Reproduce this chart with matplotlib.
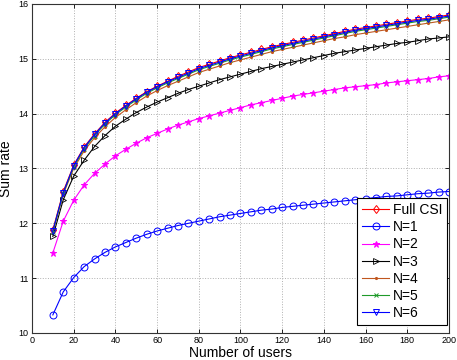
import matplotlib
matplotlib.use("Agg")
import matplotlib.pyplot as plt

plt.rcParams["font.family"] = ["Liberation Sans", "DejaVu Sans"]

users = list(range(10, 201, 5))

full_csi = [11.88, 12.58, 13.06, 13.39, 13.63, 13.84, 14.01, 14.15, 14.28, 14.40,
            14.50, 14.59, 14.68, 14.76, 14.84, 14.90, 14.96, 15.02, 15.07, 15.12,
            15.17, 15.22, 15.26, 15.30, 15.34, 15.38, 15.42, 15.46, 15.50, 15.54,
            15.57, 15.60, 15.63, 15.66, 15.69, 15.72, 15.74, 15.77, 15.80]
n1 = [10.33, 10.75, 11.01, 11.21, 11.35, 11.47, 11.57, 11.65, 11.73, 11.80,
      11.86, 11.91, 11.96, 12.00, 12.04, 12.08, 12.12, 12.15, 12.18, 12.21,
      12.24, 12.26, 12.29, 12.31, 12.33, 12.35, 12.37, 12.39, 12.41, 12.43,
      12.45, 12.47, 12.49, 12.50, 12.52, 12.54, 12.55, 12.57, 12.58]
n2 = [11.46, 12.04, 12.42, 12.70, 12.91, 13.08, 13.23, 13.35, 13.46, 13.56,
      13.64, 13.72, 13.79, 13.85, 13.91, 13.96, 14.01, 14.06, 14.11, 14.16,
      14.20, 14.24, 14.28, 14.32, 14.35, 14.38, 14.41, 14.44, 14.47, 14.49,
      14.51, 14.53, 14.56, 14.58, 14.60, 14.62, 14.64, 14.67, 14.69]
n3 = [11.76, 12.43, 12.86, 13.15, 13.40, 13.60, 13.77, 13.90, 14.02, 14.12,
      14.21, 14.29, 14.37, 14.44, 14.50, 14.56, 14.62, 14.67, 14.72, 14.77,
      14.82, 14.86, 14.90, 14.94, 14.98, 15.02, 15.06, 15.10, 15.13, 15.16,
      15.19, 15.22, 15.25, 15.28, 15.30, 15.33, 15.36, 15.38, 15.40]
n4 = [11.84, 12.53, 13.00, 13.32, 13.56, 13.76, 13.93, 14.07, 14.20, 14.32,
      14.42, 14.51, 14.59, 14.67, 14.75, 14.81, 14.87, 14.93, 14.98, 15.03,
      15.08, 15.13, 15.17, 15.21, 15.25, 15.29, 15.33, 15.37, 15.40, 15.44,
      15.47, 15.50, 15.53, 15.56, 15.59, 15.62, 15.65, 15.68, 15.71]
n5 = [11.85, 12.55, 13.03, 13.36, 13.60, 13.81, 13.98, 14.12, 14.25, 14.37,
      14.47, 14.56, 14.64, 14.72, 14.80, 14.86, 14.92, 14.98, 15.03, 15.08,
      15.13, 15.18, 15.22, 15.26, 15.30, 15.34, 15.38, 15.42, 15.46, 15.50,
      15.53, 15.56, 15.59, 15.62, 15.65, 15.68, 15.70, 15.73, 15.76]
n6 = [11.86, 12.56, 13.05, 13.38, 13.62, 13.83, 14.00, 14.14, 14.27, 14.39,
      14.49, 14.58, 14.66, 14.74, 14.82, 14.88, 14.94, 15.00, 15.05, 15.10,
      15.15, 15.20, 15.24, 15.28, 15.32, 15.36, 15.40, 15.44, 15.48, 15.52,
      15.55, 15.58, 15.61, 15.64, 15.67, 15.70, 15.72, 15.75, 15.78]

labels = ["Full CSI", "N=1", "N=2", "N=3", "N=4", "N=5", "N=6"]
x_ticks = list(range(0, 201, 20))
y_ticks = [10, 11, 12, 13, 14, 15, 16]

fig = plt.figure(figsize=(4.57, 3.6), dpi=100)
ax = fig.add_axes([0.070, 0.075, 0.9125, 0.914])

lw = 0.8
ax.plot(users, full_csi, color="red", lw=lw, marker="d", ms=4.5, mfc="none", mew=0.7, label=labels[0])
ax.plot(users, n1, color="blue", lw=lw, marker="o", ms=5, mfc="none", mew=0.7, label=labels[1])
ax.plot(users, n2, color="magenta", lw=lw, marker="*", ms=5, mew=0.7, label=labels[2])
ax.plot(users, n3, color="black", lw=lw, marker=">", ms=5, mfc="none", mew=0.6, label=labels[3])
ax.plot(users, n4, color="#c0561e", lw=lw, marker=".", ms=2.5, label=labels[4])
ax.plot(users, n5, color="#1f9a2a", lw=lw, marker="x", ms=3, mew=0.7, label=labels[5])
ax.plot(users, n6, color="blue", lw=lw, marker="v", ms=5, mfc="none", mew=0.7, label=labels[6])

ax.set_xlim(0, 200)
ax.set_ylim(10, 16)
ax.set_xticks(x_ticks)
ax.set_yticks(y_ticks)
ax.tick_params(direction="in", top=True, right=True, labelsize=6.5, length=3, width=0.6, pad=2.5)
ax.grid(True, linestyle=":", color="#b0b0b0", linewidth=0.7)
for s in ax.spines.values():
    s.set_linewidth(0.8)
    s.set_color("#333333")

ax.set_xlabel("Number of users", fontsize=10)
ax.set_ylabel("Sum rate", fontsize=10)
ax.xaxis.set_label_coords(0.5, -0.038)
ax.yaxis.set_label_coords(-0.045, 0.5)

leg = ax.legend(loc="lower right", bbox_to_anchor=(0.995, 0.024), borderaxespad=0,
                fontsize=10, labelspacing=0.23, handlelength=1.95, handletextpad=0.25,
                borderpad=0.35, fancybox=False, framealpha=1, edgecolor="black")
leg.get_frame().set_linewidth(0.8)

fig.savefig("out.png", dpi=100)
